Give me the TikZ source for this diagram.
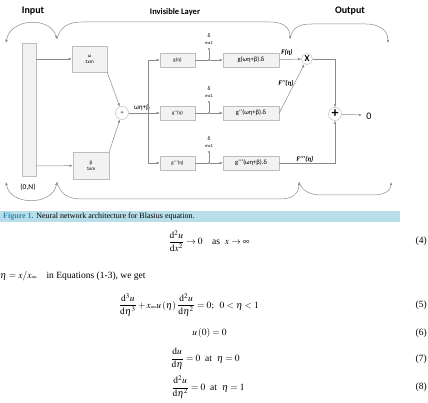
\documentclass[tikz,border=0pt]{standalone}
\usepackage{mathptmx}
\usepackage{amsmath}
\usepackage{fontspec}
\setmainfont{Liberation Serif}
\newfontfamily\diagfont{Carlito}
\usepackage{xcolor}
\usetikzlibrary{arrows.meta}

\definecolor{linegray}{HTML}{8A8A8A}
\definecolor{boxfill}{HTML}{F2F2F2}
\definecolor{boxline}{HTML}{BDBDBD}
\definecolor{capband}{HTML}{B8DFE9}
\definecolor{capblue}{HTML}{2E8CB8}

\begin{document}
\begin{tikzpicture}[
  x=1pt,
  y=-1pt,
  every node/.style={font=\diagfont},
  link/.style={draw=linegray, line width=0.5pt},
  tip/.style={-{Latex[length=3.2pt,width=2.6pt]}},
  bothtips/.style={{Latex[length=3.2pt,width=2.6pt]}-{Latex[length=3.2pt,width=2.6pt]}},
  gbox/.style={draw=boxline, fill=boxfill, line width=0.4pt, minimum height=14pt, inner sep=0pt},
  wbox/.style={draw=boxline, fill=boxfill, line width=0.4pt, align=center, inner sep=0pt,
    font=\diagfont\fontsize{5}{6}\selectfont},
  junction/.style={circle, fill=linegray, inner sep=0pt, minimum size=2.2pt},
  opcircle/.style={circle, draw=boxline, fill=white, line width=0.5pt, inner sep=0pt},
  tinylabel/.style={font=\diagfont\fontsize{4.5}{5}\selectfont, inner sep=0pt},
  flabel/.style={font=\diagfont\bfseries\itshape\fontsize{7}{8}\selectfont, inner sep=1pt},
  head/.style={font=\diagfont\bfseries\fontsize{10}{12}\selectfont},
  eqn/.style={font=\rmfamily\fontsize{9.5}{11}\selectfont, inner sep=0pt},
]
\path[use as bounding box] (0,0) rectangle (428,403);

% Headings.
\node[head] (input) at (33,11) {Input};
\node[head, font=\diagfont\bfseries\fontsize{8.5}{10}\selectfont] (hidden) at (175,12) {Invisible Layer};
\node[head] (output) at (350,11) {Output};

% Input column and weights.
\node[gbox, minimum width=14pt, minimum height=133pt] (incol) at (29,109.5) {};
\node[font=\diagfont\fontsize{7.5}{9}\selectfont] (range) at (28,187) {(0,N)};
\node[wbox, minimum width=35pt, minimum height=26pt] (omega) at (89.5,59) {ω\\1xm};
\node[wbox, minimum width=36pt, minimum height=27pt] (beta) at (91,165.5) {β\\1xm};
\node[opcircle, minimum size=13pt, font=\diagfont\fontsize{6}{7}\selectfont] (sum) at (122,113) {+};
\node[font=\diagfont\fontsize{7}{8}\selectfont, inner sep=0pt] (arg) at (142,108) {ωη+β};

\coordinate (in1) at (36,59);
\coordinate (in2) at (36,166);
\draw[link, tip] (in1) -- (omega);
\draw[link, tip] (in2) -- (beta);
\draw[link, tip] (omega.south east) -- (sum);
\draw[link, tip] (beta.north east) -- (sum);

% Three branches.
\foreach \r/\yy/\first/\second in {
  1/60/{g(η)}/{g(ωη+β).δ},
  2/113/{g’’(η)}/{g’’(ωη+β).δ},
  3/163/{g’’’(η)}/{g’’’(ωη+β).δ}} {
  \coordinate (bus\r) at (148,\yy);
  \node[gbox, minimum width=35pt, font=\diagfont\fontsize{5}{6}\selectfont] (g\r) at (177.5,\yy) {\first};
  \node[gbox, minimum width=56pt, font=\diagfont\fontsize{6.5}{7}\selectfont] (h\r) at (251,\yy) {\second};
  \node[junction] (dot\r) at (209,\yy) {};
  \node[junction] (top\r) at (209,\yy-11) {};
  \node[tinylabel] (mx\r) at (209,\yy-17) {mx1};
  \node[tinylabel, font=\diagfont\fontsize{5.5}{6}\selectfont] (del\r) at (209,\yy-24) {δ};
  \draw[link, tip] (bus\r) -- (g\r);
  \draw[link] (g\r) -- (dot\r);
  \draw[link] (dot\r) -- (top\r);
  \draw[link, tip] (dot\r) -- (h\r);
}
\draw[link] (bus1) -- (bus3);
\draw[link] (sum) -- (bus2);

% Output side.
\node[opcircle, minimum size=11pt, font=\diagfont\bfseries\fontsize{9}{10}\selectfont] (mul) at (307,59) {X};
\node[opcircle, minimum size=13pt, font=\diagfont\bfseries\fontsize{14}{14}\selectfont] (add) at (335,114) {+};
\node[font=\diagfont\fontsize{10}{12}\selectfont, inner sep=0pt] (zero) at (369,116) {0};
\coordinate (zin) at (362,115);

\draw[link, tip] (h1) -- (mul);
\node[flabel] (f0) at (287,52) {F(η)};
\draw[link, tip] (h2.east) -- (mul);
\node[flabel] (f2) at (286,83) {F’’(η)};
\draw[link, tip] (mul) -| (add);
\draw[link, tip] (h3) -| (add);
\node[flabel] (f3) at (305,159) {F’’’(η)};
\draw[link, tip] (add) -- (zin);

% Curved layer braces, top.
\coordinate (tA) at (6,43);
\coordinate (tB) at (57,39);
\coordinate (tC) at (290,39);
\coordinate (tD) at (388,43);
\draw[link, bothtips] (tA) .. controls (10,18) and (50,16) .. (tB);
\draw[link, tip] (tB) .. controls (60,27) and (68,22) .. (82,22) -- (270,22)
  .. controls (284,22) and (290,28) .. (tC);
\draw[link, tip] (tC) .. controls (292,28) and (298,24) .. (312,24) -- (366,24)
  .. controls (380,24) and (388,31) .. (tD);

% Curved layer braces, bottom.
\coordinate (bA) at (6,182);
\coordinate (bB) at (57,182);
\coordinate (bC) at (299,182);
\coordinate (bD) at (391,182);
\draw[link, bothtips] (bA) .. controls (10,206) and (52,206) .. (bB);
\draw[link, tip] (bB) .. controls (60,194) and (68,199) .. (82,199) -- (280,199)
  .. controls (293,199) and (299,193) .. (bC);
\draw[link, tip] (bC) .. controls (302,191) and (310,195) .. (322,195) -- (373,195)
  .. controls (385,195) and (391,190) .. (bD);

% Caption.
\fill[capband] (0,211) rectangle (400,222);
\node[anchor=west, eqn, font=\rmfamily\fontsize{8}{9}\selectfont] (caption) at (3,216.5)
  {\textcolor{capblue}{\bfseries Figure 1.} Neural network architecture for Blasius equation.};

% Equations.
\node[eqn] (eq4) at (209,241) {$\displaystyle\frac{\mathrm{d}^2u}{\mathrm{d}x^2}\to 0\quad\text{as}\ \ x\to\infty$};
\node[eqn, anchor=east] (n4) at (427,241) {(4)};
\node[eqn, anchor=west] (intro) at (0,276) {$\eta = x/x_\infty$\quad in Equations (1-3), we get};
\node[eqn] (eq5) at (189,305) {$\displaystyle\frac{\mathrm{d}^3u}{\mathrm{d}\eta^3}+x_\infty u\left(\eta\right)\frac{\mathrm{d}^2u}{\mathrm{d}\eta^2}=0;\ \ 0<\eta<1$};
\node[eqn, anchor=east] (n5) at (427,305) {(5)};
\node[eqn] (eq6) at (209.5,333) {$u\left(0\right)=0$};
\node[eqn, anchor=east] (n6) at (427,333) {(6)};
\node[eqn] (eq7) at (205,359) {$\displaystyle\frac{\mathrm{d}u}{\mathrm{d}\eta}=0\ \ \text{at}\ \ \eta=0$};
\node[eqn, anchor=east] (n7) at (427,359) {(7)};
\node[eqn] (eq8) at (208,387) {$\displaystyle\frac{\mathrm{d}^2u}{\mathrm{d}\eta^2}=0\ \ \text{at}\ \ \eta=1$};
\node[eqn, anchor=east] (n8) at (427,387) {(8)};

\end{tikzpicture}
\end{document}
